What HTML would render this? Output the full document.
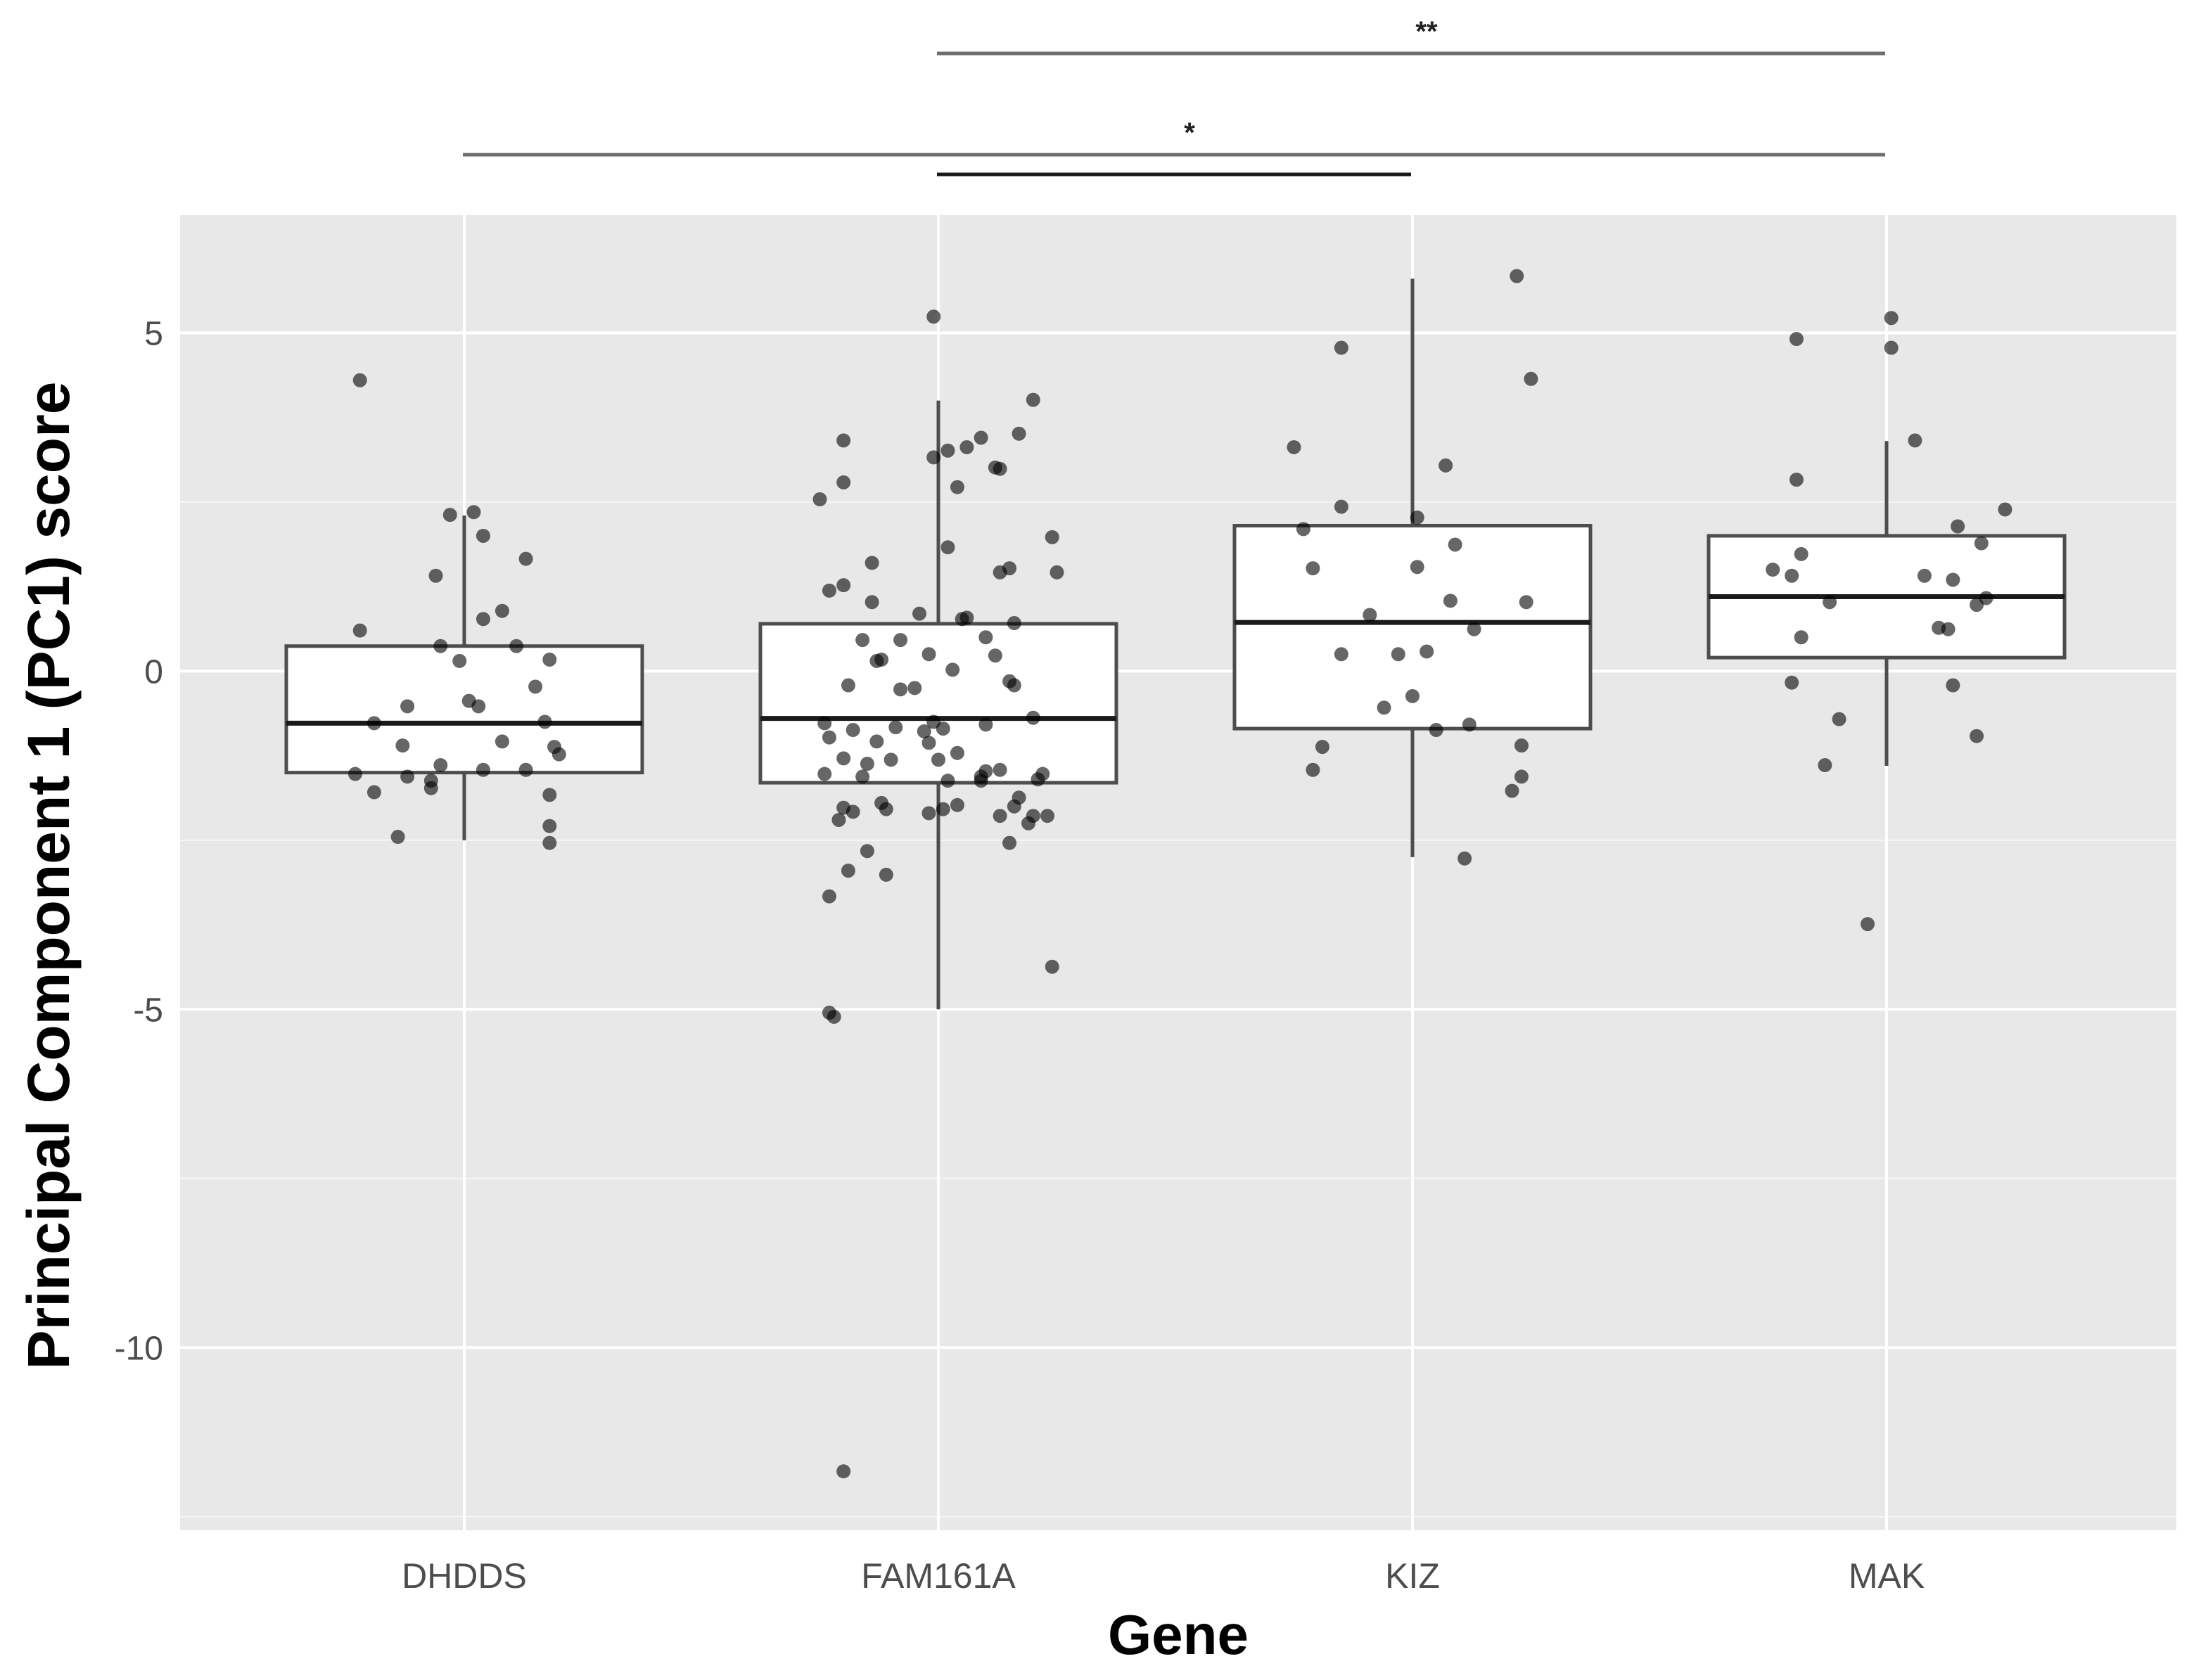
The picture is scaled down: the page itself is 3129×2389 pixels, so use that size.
<!DOCTYPE html>
<html><head><meta charset="utf-8"><style>
body{margin:0;background:#fff;}
svg{display:block;font-family:"Liberation Sans",sans-serif;}
</style></head><body>
<svg id="chart" width="3129" height="2389" viewBox="0 0 3129 2389" xmlns="http://www.w3.org/2000/svg"></svg>
<script>
const categories=["DHDDS","FAM161A","KIZ","MAK"];
const yTicks=[5,0,-5,-10];
const boxQ1=[-1.5,-1.65,-0.85,0.2];
const boxMedian=[-0.77,-0.7,0.72,1.1];
const boxQ3=[0.37,0.7,2.15,2.0];
const whiskerLow=[-2.5,-5.0,-2.75,-1.4];
const whiskerHigh=[2.3,4.0,5.8,3.4];
const dhddsJitter=[-0.22,-0.03,0.02,0.04,-0.06,0.13,0.08,0.04,-0.22,-0.05,0.11,0.18,-0.01,0.15,-0.12,0.01,0.03,0.17,-0.19,-0.13,0.08,0.19,0.2,-0.05,0.04,0.13,-0.23,-0.12,-0.07,-0.07,-0.19,0.18,0.18,-0.14,0.18];
const dhddsValues=[4.30,2.31,2.35,2.0,1.41,1.66,0.89,0.77,0.60,0.37,0.37,0.17,0.15,-0.23,-0.52,-0.44,-0.52,-0.75,-0.77,-1.10,-1.04,-1.12,-1.23,-1.39,-1.46,-1.46,-1.52,-1.56,-1.62,-1.73,-1.79,-1.83,-2.29,-2.45,-2.54];
const famJitter=[-0.01,-0.2,-0.01,0.02,0.06,0.09,0.2,0.17,-0.25,-0.2,0.13,0.12,0.04,0.02,0.24,0.13,0.15,0.25,-0.2,-0.23,-0.14,-0.14,-0.04,0.05,0.06,0.16,-0.16,-0.08,-0.02,0.1,0.12,-0.12,-0.13,0.03,0.16,0.15,-0.19,-0.08,-0.05,-0.24,-0.18,-0.09,-0.03,-0.01,0.01,0.1,0.2,-0.23,-0.13,-0.02,0,0.04,-0.2,-0.15,-0.1,0.1,0.13,0.21,0.22,-0.24,-0.16,0.02,0.09,0.09,0.17,0.16,0.2,0.23,0.19,0.13,-0.2,-0.18,-0.12,-0.11,-0.02,0.01,0.04,-0.21,0.15,-0.15,-0.19,-0.11,-0.23,0.24,-0.23,-0.22,-0.2];
const famValues=[5.24,3.41,3.16,3.26,3.31,3.45,4.01,3.51,2.54,2.79,2.99,3.01,2.72,1.83,1.98,1.46,1.52,1.46,1.27,1.19,1.60,1.02,0.85,0.77,0.79,0.71,0.46,0.46,0.25,0.50,0.23,0.17,0.15,0.02,-0.21,-0.15,-0.21,-0.27,-0.25,-0.77,-0.87,-0.83,-0.89,-0.75,-0.85,-0.79,-0.69,-0.98,-1.04,-1.06,-1.31,-1.21,-1.29,-1.37,-1.31,-1.48,-1.46,-1.60,-1.52,-1.52,-1.56,-1.62,-1.62,-1.56,-1.87,-2.00,-2.14,-2.14,-2.25,-2.14,-2.02,-2.08,-1.95,-2.04,-2.10,-2.04,-1.98,-2.20,-2.54,-2.66,-2.95,-3.01,-3.33,-4.37,-5.05,-5.11,-11.83];
const kizJitter=[-0.15,0.22,0.25,-0.25,0.07,-0.15,0.01,-0.23,0.09,-0.21,0.01,0.24,0.08,-0.09,0.13,-0.15,-0.03,0.03,0,-0.06,0.12,0.05,0.23,-0.19,-0.21,0.23,0.21,0.11];
const kizValues=[4.78,5.84,4.32,3.31,3.04,2.43,2.27,2.10,1.87,1.52,1.54,1.02,1.04,0.83,0.62,0.25,0.25,0.29,-0.37,-0.54,-0.79,-0.87,-1.10,-1.12,-1.46,-1.56,-1.77,-2.77];
const makJitter=[0.01,-0.19,0.01,0.06,-0.19,0.25,0.15,0.2,-0.18,-0.24,-0.2,0.08,0.14,0.21,-0.12,0.19,0.11,0.13,-0.18,-0.2,0.14,-0.1,0.19,-0.13,-0.04];
const makValues=[5.22,4.91,4.78,3.41,2.83,2.39,2.14,1.89,1.73,1.50,1.41,1.41,1.35,1.08,1.02,0.98,0.64,0.62,0.50,-0.17,-0.21,-0.71,-0.96,-1.39,-3.74];
const sigStart=[1,0,1];
const sigEnd=[3,3,2];
const sigLabels=["**","*",""];

const svg=document.getElementById('chart');
const NS="http://www.w3.org/2000/svg";
const PL=256,PR=3094,PT=306,PB=2176;
const yMax=6.74,yMin=-12.7;
const y=v=>PT+(yMax-v)/(yMax-yMin)*(PB-PT);
const x=c=>660+c*674;
function mk(tag,a,parent){const e=document.createElementNS(NS,tag);for(const k in a)e.setAttribute(k,a[k]);(parent||svg).appendChild(e);return e;}

const panel=mk('rect',{x:PL,y:PT,width:PR-PL,height:PB-PT,fill:'#e8e8e8'});


[7.5,2.5,-2.5,-7.5,-12.5].forEach(v=>{if(v<yMax&&v>yMin){const l=mk('line',{x1:PL,x2:PR,y1:y(v),y2:y(v),stroke:'#f5f5f5','stroke-width':2});

}});
yTicks.forEach(v=>{const l=mk('line',{x1:PL,x2:PR,y1:y(v),y2:y(v),stroke:'#fff','stroke-width':4});


const t=mk('text',{x:232,y:y(v)+17,'text-anchor':'end','font-size':48,fill:'#4d4d4d'});t.textContent=v;

});
categories.forEach((c,i)=>{const l=mk('line',{x1:x(i),x2:x(i),y1:PT,y2:PB,stroke:'#fff','stroke-width':4});


const t=mk('text',{x:x(i),y:2258,'text-anchor':'middle','font-size':50,fill:'#4d4d4d'});t.textContent=c;

});
const hw=253;
categories.forEach((c,i)=>{const g=mk('g',{});


mk('line',{x1:x(i),x2:x(i),y1:y(whiskerHigh[i]),y2:y(boxQ3[i]),stroke:'#4d4d4d','stroke-width':5},g);
mk('line',{x1:x(i),x2:x(i),y1:y(boxQ1[i]),y2:y(whiskerLow[i]),stroke:'#4d4d4d','stroke-width':5},g);
mk('rect',{x:x(i)-hw,y:y(boxQ3[i]),width:2*hw,height:y(boxQ1[i])-y(boxQ3[i]),fill:'#fff',stroke:'#4d4d4d','stroke-width':5},g);
mk('line',{x1:x(i)-hw,x2:x(i)+hw,y1:y(boxMedian[i]),y2:y(boxMedian[i]),stroke:'#1a1a1a','stroke-width':7},g);});
[[dhddsJitter,dhddsValues],[famJitter,famValues],[kizJitter,kizValues],[makJitter,makValues]].forEach((s,i)=>{
s[1].forEach((v,k)=>{const p=mk('circle',{cx:x(i+s[0][k]),cy:y(v),r:10,fill:'rgba(0,0,0,0.6)'});

});});
const sigY=[76,220,248];
sigStart.forEach((s,k)=>{const l=mk('line',{x1:x(s)-2,x2:x(sigEnd[k])-2,y1:sigY[k],y2:sigY[k],stroke:k==2?'#1a1a1a':'#6e6e6e','stroke-width':5});


if(sigLabels[k]){const t=mk('text',{x:(x(s)+x(sigEnd[k]))/2+20,y:sigY[k]-18,'text-anchor':'middle','font-size':40,'font-weight':'bold',fill:'#222'});t.textContent=sigLabels[k];

}});
const yt=mk('text',{x:0,y:0,transform:'translate(98,1245) rotate(-90)','text-anchor':'middle','font-size':84,'font-weight':'bold',fill:'#000'});yt.textContent='Principal Component 1 (PC1) score';


const xt=mk('text',{x:1675,y:2352,'text-anchor':'middle','font-size':80,'font-weight':'bold',fill:'#000'});xt.textContent='Gene';


</script>
</body></html>
